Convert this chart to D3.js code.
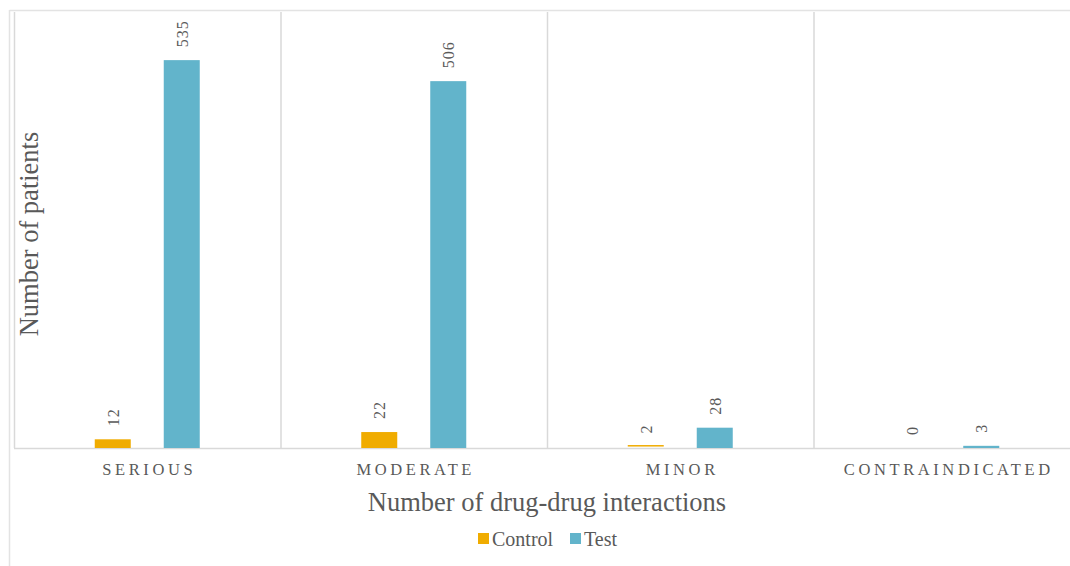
<!DOCTYPE html>
<html lang="en">
<head>
    <meta charset="UTF-8">
    <title>Drug-drug interactions</title>
    <script src="https://d3js.org/d3.v7.min.js"></script>
    <style>
        body { margin: 0; background: #fff; }
        svg text { font-family: 'Liberation Serif', 'Times New Roman', serif; fill: #595959; }
    </style>
</head>
<body>
    <svg width="1070" height="566"></svg>
    <script>
        const categories = ["SERIOUS", "MODERATE", "MINOR", "CONTRAINDICATED"];
        const series = ["Control", "Test"];
        const controlValues = [12, 22, 2, 0];
        const testValues = [535, 506, 28, 3];
        const colors = ["#F0AC00", "#62B4CB"];

        const svg = d3.select("svg");
        const plotLeft = 14, plotRight = 1080, plotTop = 13, plotBottom = 448;

        const x = d3.scaleBand().domain(categories).range([plotLeft, plotRight]);
        const y = d3.scaleLinear().domain([0, 600]).range([plotBottom, plotTop]);

        // outer frame
        svg.append("line").attr("x1", 9.5).attr("x2", 1070).attr("y1", 10.5).attr("y2", 10.5)
            .attr("stroke", "#e3e3e3").attr("stroke-width", 1.5);
        svg.append("line").attr("x1", 9.5).attr("x2", 9.5).attr("y1", 10).attr("y2", 566)
            .attr("stroke", "#e3e3e3").attr("stroke-width", 1.5);

        // category separators
        const seps = categories.map(c => x(c));
        svg.selectAll(".sep").data(seps).enter().append("line")
            .attr("x1", d => d + 0.5).attr("x2", d => d + 0.5)
            .attr("y1", 12).attr("y2", plotBottom)
            .attr("stroke", "#d9d9d9").attr("stroke-width", 1.5);

        // baseline
        svg.append("line").attr("x1", plotLeft).attr("x2", 1070).attr("y1", plotBottom + 0.5).attr("y2", plotBottom + 0.5)
            .attr("stroke", "#d9d9d9").attr("stroke-width", 1.5);

        const rows = [];
        categories.forEach((c, i) => {
            rows.push({ cat: c, s: "Control", v: controlValues[i], color: colors[0] });
            rows.push({ cat: c, s: "Test", v: testValues[i], color: colors[1] });
        });

        const bw = 36;
        const cx = d => x(d.cat) + x.bandwidth() / 2 + (d.s === "Control" ? -34.5 : 34.5);

        svg.selectAll(".bar").data(rows).enter().append("rect")
            .attr("x", d => cx(d) - bw / 2)
            .attr("y", d => y(d.v) - (d.v > 0 && y(0) - y(d.v) < 1.5 ? 1.5 : 0))
            .attr("width", bw)
            .attr("height", d => Math.max(y(0) - y(d.v), d.v > 0 ? 1.5 : 0))
            .attr("fill", d => d.color);

        svg.selectAll(".val").data(rows).enter().append("text")
            .attr("transform", d => `translate(${cx(d) + 6},${y(d.v) - 13}) rotate(-90)`)
            .attr("text-anchor", "start")
            .style("font-size", "16px")
            .style("letter-spacing", "1px")
            .text(d => d.v);

        svg.selectAll(".cat").data(categories).enter().append("text")
            .attr("x", d => x(d) + x.bandwidth() / 2 + 2)
            .attr("y", 475)
            .attr("text-anchor", "middle")
            .style("font-size", "16.5px")
            .style("letter-spacing", "3.6px")
            .text(d => d);

        svg.append("text").attr("x", 547).attr("y", 511).attr("text-anchor", "middle")
            .style("font-size", "26.5px").text("Number of drug-drug interactions");

        svg.append("text").attr("transform", "translate(38,234) rotate(-90)").attr("text-anchor", "middle")
            .style("font-size", "26.5px").text("Number of patients");

        // legend
        const legend = svg.append("g").attr("transform", "translate(478,539)");
        const lx = [0, 92];
        series.forEach((s, i) => {
            legend.append("rect").attr("x", lx[i]).attr("y", -6).attr("width", 11).attr("height", 11).attr("fill", colors[i]);
            legend.append("text").attr("x", lx[i] + 14).attr("y", 7).style("font-size", "20px").text(s);
        });
    </script>
</body>
</html>
